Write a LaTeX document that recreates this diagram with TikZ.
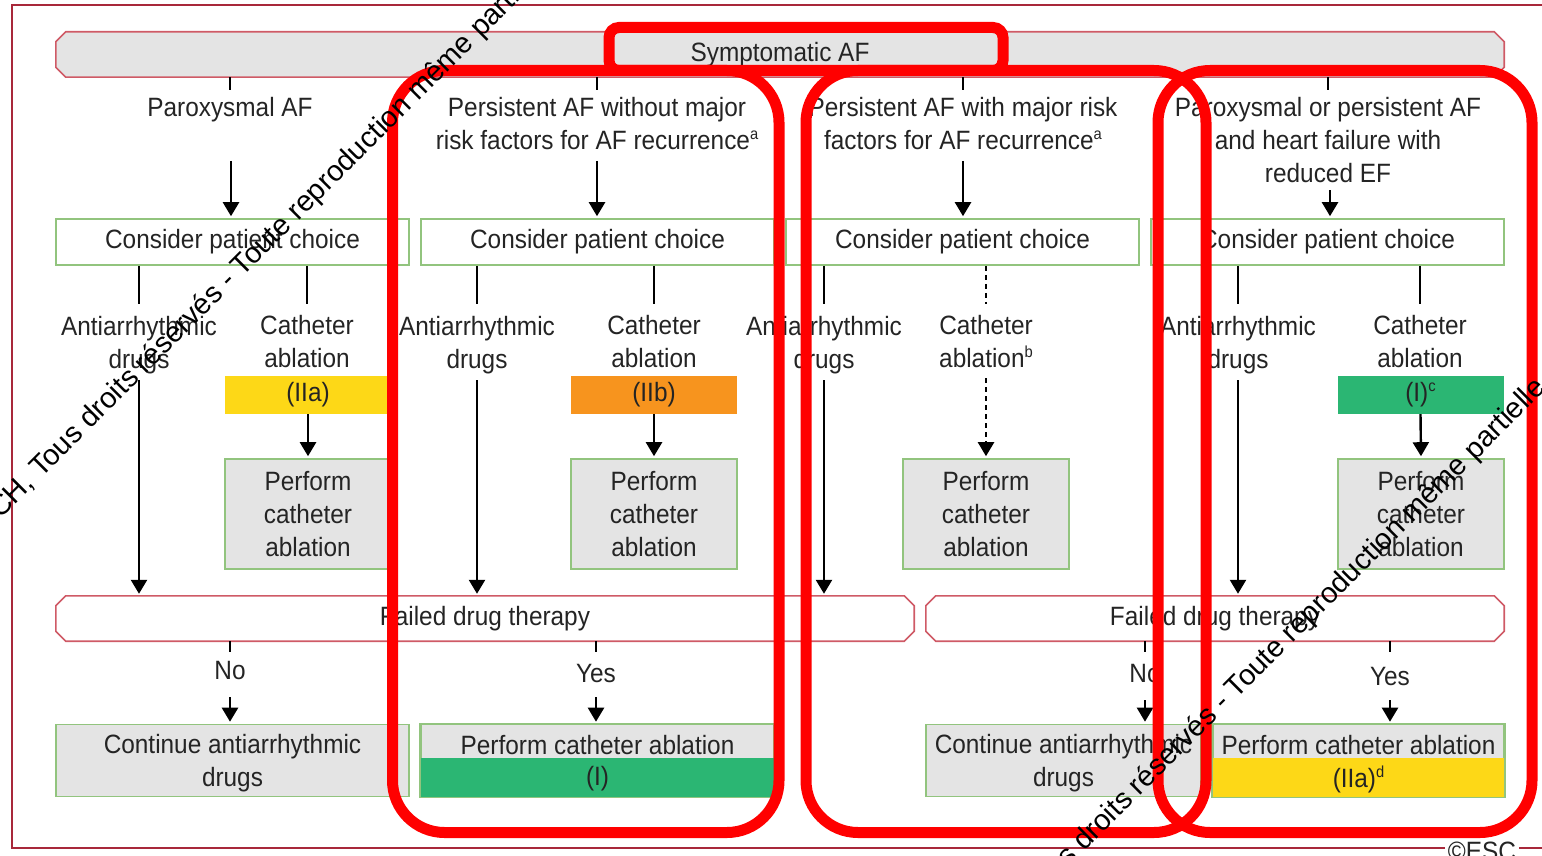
\documentclass[tikz,border=0pt]{standalone}
\usepackage{fontspec}
\setmainfont{Liberation Sans}[FakeStretch=0.92]
\newfontfamily\wmfont{Liberation Sans}
\usetikzlibrary{positioning,arrows.meta,calc}

\definecolor{txtgray}{HTML}{242424}
\definecolor{boxgreen}{HTML}{92C47E}
\definecolor{boxgray}{HTML}{E4E4E4}
\definecolor{barred}{HTML}{CF5A66}
\definecolor{framered}{HTML}{A8283A}
\definecolor{clsyellow}{HTML}{FDD817}
\definecolor{clsorange}{HTML}{F7941E}
\definecolor{clsgreen}{HTML}{2BB673}
\definecolor{markred}{HTML}{FF0000}

\newcommand\fnt{\fontsize{26.5}{33}\selectfont}
\newcommand\supr[1]{\raisebox{0.38em}{\fontsize{16}{16}\selectfont #1}}
% chamfered outline round an empty bar node
\newcommand\chamferbar[2]{%
  \path[draw=barred, line width=1.6pt, fill=#2]
    ([xshift=10pt]#1.north west) -- ([xshift=-10pt]#1.north east)
    -- ([yshift=-10pt]#1.north east) -- ([yshift=10pt]#1.south east)
    -- ([xshift=-10pt]#1.south east) -- ([xshift=10pt]#1.south west)
    -- ([yshift=10pt]#1.south west) -- ([yshift=-10pt]#1.north west) -- cycle;}

\begin{document}
\begin{tikzpicture}[
    x=1pt, y=-1pt,
    font=\fnt,
    lab/.style={align=center, inner sep=0pt, text=txtgray},
    choicebox/.style={draw=boxgreen, line width=1.6pt, fill=white, minimum width=353pt, minimum height=46pt, inner sep=0pt, text=txtgray},
    actbox/.style={draw=boxgreen, line width=1.6pt, fill=boxgray, minimum width=166pt, minimum height=110pt, align=center, inner sep=0pt, text=txtgray},
    clsbox/.style={minimum width=166pt, minimum height=38pt, inner sep=0pt, text=txtgray},
    endbox/.style={draw=boxgreen, line width=1.6pt, fill=boxgray, minimum height=72pt, inner sep=0pt},
    barnode/.style={minimum height=45pt, inner sep=0pt},
    arr/.style={-{Triangle[width=16pt,length=14pt]}, line width=2.4pt, shorten >=2pt},
    stub/.style={line width=2.4pt},
    dotline/.style={line width=2.4pt, dash pattern=on 5pt off 4pt},
    redmark/.style={draw=markred, line width=11pt},
    wm/.style={font=\wmfont\fontsize{29}{29}\selectfont, inner sep=0pt, anchor=base west, rotate=45}
]
\useasboundingbox (0,0) rectangle (1542,856);

% ---- frame ----
\draw[framered, line width=2.2pt] (12,5) rectangle (1580,848);
\node[fill=white, inner sep=3pt, text=txtgray] (esc) at (1482,851) {©ESC};

% ---- top bar ----
\node[barnode, minimum width=1448pt] (topbar) at (780,54.5) {};
\chamferbar{topbar}{boxgray}
\node[lab] (symaf) at (topbar.center) {Symptomatic AF};

% ---- column headers ----
\node[lab] (hdr1) at (230,110) {Paroxysmal AF};
\node[lab] (hdr2) at (597,123.5) {Persistent AF without major\\risk factors for AF recurrence\supr{a}};
\node[lab] (hdr3) at (963,123.5) {Persistent AF with major risk\\factors for AF recurrence\supr{a}};
\node[lab] (hdr4) at (1328,140) {Paroxysmal or persistent AF\\and heart failure with\\reduced EF};
\foreach \h in {1,...,4}
  \draw[stub] (topbar.south -| hdr\h) -- ++(0,13);

\coordinate (a1) at (231,161);
\coordinate (a2) at (597,161);
\coordinate (a3) at (963,161);
\coordinate (a4) at (1330,190);

% ---- consider patient choice ----
\node[choicebox] (cpc1) at (232.5,242) {Consider patient choice};
\node[choicebox] (cpc2) at (597.5,242) {Consider patient choice};
\node[choicebox] (cpc3) at (962.5,242) {Consider patient choice};
\node[choicebox] (cpc4) at (1327.5,242) {Consider patient choice};
\foreach \c in {1,...,4}
  \draw[arr] (a\c) -- (a\c |- cpc\c.north);

% ---- options ----
\node[lab] (aad1) at (139,345) {Antiarrhythmic\\drugs};
\node[lab] (cab1) at (307,342) {Catheter\\ablation};
\node[lab] (aad2) at (477,345) {Antiarrhythmic\\drugs};
\node[lab] (cab2) at (654,342) {Catheter\\ablation};
\node[lab] (aad3) at (824,345) {Antiarrhythmic\\drugs};
\node[lab] (cab3) at (986,342) {Catheter\\ablation\supr{b}};
\node[lab] (aad4) at (1238,345) {Antiarrhythmic\\drugs};
\node[lab] (cab4) at (1420,342) {Catheter\\ablation};

\foreach \c in {1,2,4} {
  \draw[stub] (cpc\c.south -| aad\c) -- ([yshift=12pt]aad\c.north);
  \draw[stub] (cpc\c.south -| cab\c) -- ([yshift=12pt]cab\c.north);
}
\draw[stub] (cpc3.south -| aad3) -- ([yshift=12pt]aad3.north);
\draw[dotline] (cpc3.south -| cab3) -- ([yshift=12pt]cab3.north);

% ---- class of recommendation ----
\node[clsbox, fill=clsyellow] (cls1) at (308,395) {(IIa)};
\node[clsbox, fill=clsorange] (cls2) at (654,395) {(IIb)};
\node[clsbox, fill=clsgreen] (cls4) at (1420.5,395) {(I)\supr{c}};

% ---- perform catheter ablation ----
\node[actbox] (pf1) at (308,514) {Perform\\catheter\\ablation};
\node[actbox] (pf2) at (654,514) {Perform\\catheter\\ablation};
\node[actbox] (pf3) at (986,514) {Perform\\catheter\\ablation};
\node[actbox] (pf4) at (1421,514) {Perform\\catheter\\ablation};

\draw[arr] (cls1.south) -- (pf1.north);
\draw[arr] (cls2.south) -- (pf2.north);
\draw[arr] (cls4.south) -- (pf4.north);
\draw[arr, dotline] ([yshift=-10pt]cab3.south) -- (pf3.north);

% ---- failed drug therapy ----
\node[barnode, minimum width=858pt] (fail1) at (485,618.5) {};
\node[barnode, minimum width=578pt] (fail2) at (1215,618.5) {};
\chamferbar{fail1}{white}
\chamferbar{fail2}{white}
\node[lab] (fdt1) at (fail1.center) {Failed drug therapy};
\node[lab] (fdt2) at (fail2.center) {Failed drug therapy};

\draw[arr] ([yshift=-6pt]aad1.south) -- (aad1.south |- fail1.north);
\draw[arr] ([yshift=-6pt]aad2.south) -- (aad2.south |- fail1.north);
\draw[arr] ([yshift=-6pt]aad3.south) -- (aad3.south |- fail1.north);
\draw[arr] ([yshift=-6pt]aad4.south) -- (aad4.south |- fail2.north);

% ---- yes / no ----
\node[lab] (no1) at (230,671) {No};
\node[lab] (yes1) at (596,674) {Yes};
\node[lab] (no2) at (1145,674) {No};
\node[lab] (yes2) at (1390,677) {Yes};
\draw[stub] (fail1.south -| no1) -- ++(0,11);
\draw[stub] (fail1.south -| yes1) -- ++(0,11);
\draw[stub] (fail2.south -| no2) -- ++(0,11);
\draw[stub] (fail2.south -| yes2) -- ++(0,11);

% ---- end boxes ----
\node[endbox, minimum width=353pt] (cad1) at (232.5,760.5) {};
\node[lab] (cad1t) at ([yshift=-3pt]cad1.center) {Continue antiarrhythmic\\drugs};
\node[endbox, minimum width=275pt] (cad3) at (1063.5,760.5) {};
\node[lab] (cad3t) at ([yshift=-3pt]cad3.center) {Continue antiarrhythmic\\drugs};

\node[endbox, minimum width=353pt] (pca2) at (597.5,760.5) {};
\fill[clsgreen] ([yshift=39pt]pca2.south west) rectangle (pca2.south east);
\draw[boxgreen, line width=1.6pt] (pca2.south west) rectangle (pca2.north east);
\node[lab] (pca2t) at (597.5,745) {Perform catheter ablation};
\node[lab] (pca2c) at (597.5,779) {(I)};

\node[endbox, minimum width=291pt] (pca4) at (1358.5,760.5) {};
\fill[clsyellow] ([yshift=39pt]pca4.south west) rectangle (pca4.south east);
\draw[boxgreen, line width=1.6pt] (pca4.south west) rectangle (pca4.north east);
\node[lab] (pca4t) at (1358.5,745) {Perform catheter ablation};
\node[lab] (pca4c) at (1358.5,779) {(IIa)\supr{d}};

\draw[arr] ([yshift=-26pt]no1.center) -- (no1 |- cad1.north);
\draw[arr] ([yshift=-23pt]yes1.center) -- (yes1 |- pca2.north);
\draw[arr] ([yshift=-26pt]no2.center) -- (no2 |- cad3.north);
\draw[arr] ([yshift=-23pt]yes2.center) -- (yes2 |- pca4.north);

% ---- red highlight marks ----
\draw[redmark, rounded corners=10pt] (609,27.5) rectangle (1003,70.5);
\draw[redmark, rounded corners=52pt] (392.5,70.5) rectangle (779,832.5);
\draw[redmark, rounded corners=52pt] (806,70.5) rectangle (1206,832.5);
\draw[redmark, rounded corners=52pt] (1158,70.5) rectangle (1532,832.5);

% ---- watermark ----
\node[wm] (wmA) at (0,520) {CH, Tous droits réservés - Toute reproduction même partielle};
\node[wm] (wmB) at (994,942) {CH, Tous droits réservés - Toute reproduction même partielle};

\end{tikzpicture}
\end{document}
